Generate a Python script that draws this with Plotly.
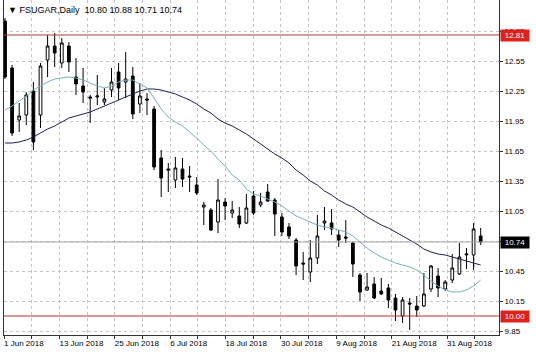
import datetime as dt
import plotly.graph_objects as go

symbol = "FSUGAR"
timeframe = "Daily"

dates = [
    "2018-06-01", "2018-06-04", "2018-06-05", "2018-06-06", "2018-06-07", "2018-06-08",
    "2018-06-11", "2018-06-12", "2018-06-13", "2018-06-14", "2018-06-15", "2018-06-18",
    "2018-06-19", "2018-06-20", "2018-06-21", "2018-06-22", "2018-06-25", "2018-06-26",
    "2018-06-27", "2018-06-28", "2018-06-29", "2018-07-02", "2018-07-03", "2018-07-05",
    "2018-07-06", "2018-07-09", "2018-07-10", "2018-07-11", "2018-07-12", "2018-07-13",
    "2018-07-16", "2018-07-17", "2018-07-18", "2018-07-19", "2018-07-20", "2018-07-23",
    "2018-07-24", "2018-07-25", "2018-07-26", "2018-07-27", "2018-07-30", "2018-07-31",
    "2018-08-01", "2018-08-02", "2018-08-03", "2018-08-06", "2018-08-07", "2018-08-08",
    "2018-08-09", "2018-08-10", "2018-08-13", "2018-08-14", "2018-08-15", "2018-08-16",
    "2018-08-17", "2018-08-20", "2018-08-21", "2018-08-22", "2018-08-23", "2018-08-24",
    "2018-08-27", "2018-08-28", "2018-08-29", "2018-08-30", "2018-08-31", "2018-09-04",
    "2018-09-05", "2018-09-06",
]

opens = [
    12.95, 12.48, 11.96, 12.01, 12.25, 12.01, 12.56, 12.70, 12.53, 12.70,
    12.39, 12.30, 12.19, 12.19, 12.14, 12.26, 12.44, 12.34, 12.40, 12.12,
    12.17, 12.07, 11.58, 11.47, 11.36, 11.47, 11.40, 11.31, 11.09, 11.06,
    10.94, 11.14, 11.03, 11.00, 10.93, 11.20, 11.11, 11.24, 11.16, 10.99,
    10.89, 10.76, 10.53, 10.44, 10.58, 10.93, 10.93, 10.81, 10.79, 10.73,
    10.41, 10.26, 10.32, 10.25, 10.28, 10.18, 10.00, 10.13, 10.10, 10.10,
    10.27, 10.40, 10.27, 10.36, 10.42, 10.61, 10.61, 10.80,
]
highs = [
    12.98, 12.51, 12.13, 12.24, 12.34, 12.53, 12.81, 12.83, 12.78, 12.74,
    12.58, 12.48, 12.21, 12.41, 12.28, 12.48, 12.53, 12.64, 12.49, 12.33,
    12.23, 12.10, 11.66, 11.53, 11.59, 11.58, 11.50, 11.39, 11.14, 11.08,
    11.37, 11.18, 11.15, 11.09, 11.22, 11.25, 11.23, 11.32, 11.18, 11.03,
    10.93, 10.78, 10.64, 10.76, 11.01, 11.09, 11.07, 10.86, 10.96, 10.74,
    10.43, 10.43, 10.39, 10.38, 10.32, 10.22, 10.19, 10.18, 10.20, 10.43,
    10.51, 10.48, 10.36, 10.62, 10.73, 10.68, 10.93, 10.88,
]
lows = [
    12.37, 11.80, 11.84, 11.91, 11.66, 11.88, 12.39, 12.49, 12.48, 12.44,
    12.21, 12.13, 11.93, 12.11, 12.11, 12.19, 12.16, 12.18, 11.97, 12.03,
    12.01, 11.46, 11.19, 11.24, 11.28, 11.29, 11.24, 11.21, 10.91, 10.85,
    10.83, 10.96, 10.98, 10.88, 10.92, 11.01, 11.09, 11.14, 10.80, 10.80,
    10.77, 10.41, 10.36, 10.34, 10.52, 10.86, 10.81, 10.69, 10.73, 10.39,
    10.15, 10.25, 10.17, 10.21, 10.08, 9.95, 9.93, 9.86, 9.99, 10.09,
    10.24, 10.19, 10.25, 10.33, 10.41, 10.47, 10.46, 10.71,
]
closes = [
    12.39, 11.83, 12.00, 12.21, 11.74, 12.50, 12.70, 12.63, 12.73, 12.54,
    12.32, 12.24, 12.18, 12.20, 12.17, 12.34, 12.28, 12.37, 12.02, 12.20,
    12.16, 11.49, 11.38, 11.46, 11.48, 11.37, 11.39, 11.23, 11.11, 10.86,
    11.16, 11.10, 11.06, 10.92, 11.08, 11.03, 11.14, 11.15, 11.02, 10.84,
    10.80, 10.50, 10.52, 10.58, 10.80, 10.95, 10.87, 10.76, 10.78, 10.52,
    10.24, 10.29, 10.18, 10.22, 10.16, 10.06, 10.16, 10.12, 10.06, 10.22,
    10.50, 10.28, 10.34, 10.48, 10.59, 10.62, 10.87, 10.74,
]

ma_fast = [
    12.06, 12.10, 12.15, 12.20, 12.26, 12.30, 12.34, 12.37, 12.38, 12.39,
    12.38, 12.36, 12.33, 12.30, 12.28, 12.30, 12.34, 12.36, 12.36, 12.32,
    12.28, 12.18, 12.07, 11.99, 11.94, 11.90, 11.84, 11.78, 11.71, 11.65,
    11.57, 11.50, 11.41, 11.36, 11.27, 11.22, 11.20, 11.17, 11.14, 11.10,
    11.05, 11.00, 10.97, 10.94, 10.91, 10.89, 10.88, 10.86, 10.84, 10.80,
    10.74, 10.68, 10.63, 10.59, 10.56, 10.53, 10.51, 10.49, 10.46, 10.41,
    10.35, 10.30, 10.26, 10.24, 10.24, 10.26, 10.30, 10.36,
]
ma_slow = [
    11.73, 11.73, 11.74, 11.76, 11.79, 11.83, 11.87, 11.90, 11.94, 11.98,
    12.00, 12.02, 12.04, 12.07, 12.10, 12.13, 12.16, 12.19, 12.22, 12.25,
    12.27, 12.27, 12.26, 12.24, 12.22, 12.19, 12.16, 12.12, 12.07, 12.03,
    11.97, 11.93, 11.90, 11.86, 11.82, 11.77, 11.72, 11.67, 11.62, 11.58,
    11.53, 11.46, 11.41, 11.35, 11.31, 11.25, 11.21, 11.16, 11.12, 11.09,
    11.04, 10.99, 10.95, 10.91, 10.88, 10.84, 10.80, 10.76, 10.72, 10.67,
    10.64, 10.62, 10.61, 10.59, 10.57, 10.55, 10.53, 10.51,
]

# time-scale labels as printed on the reference (the terminal places them at fixed
# pixel steps along the bar axis, every second vertical grid line)
label_dates = [
    "2018-06-01", "2018-06-13", "2018-06-25", "2018-07-06", "2018-07-18",
    "2018-07-30", "2018-08-09", "2018-08-21", "2018-08-31",
]
price_ticks = [9.85, 10.15, 10.45, 10.75, 11.05, 11.35, 11.65, 11.95, 12.25, 12.55, 12.85]
resistance = 12.81
support = 10.00
last_price = closes[-1]

idx = list(range(len(dates)))

# axis layout (in bar units)
x_range = [-0.14, 69.58]
grid_step = 3.9
n_grid = 2 * len(label_dates)


def fmt_date(s):
    d = dt.date.fromisoformat(s)
    return f"{d.day} {d.strftime('%b %Y')}"


tickvals, ticktext = [], []
for k in range(n_grid):
    tickvals.append(x_range[0] + 0.01 + grid_step * k)
    ticktext.append(fmt_date(label_dates[k // 2]) if k % 2 == 0 else "")

FONT = "Liberation Sans, Arial, sans-serif"

fig = go.Figure()
fig.add_trace(go.Scatter(x=idx, y=ma_slow, mode="lines",
                         line=dict(color="#1c1f5a", width=1), hoverinfo="skip"))
fig.add_trace(go.Scatter(x=idx, y=ma_fast, mode="lines",
                         line=dict(color="#74b3bd", width=1), hoverinfo="skip"))
fig.add_trace(go.Candlestick(
    x=idx, open=opens, high=highs, low=lows, close=closes,
    increasing=dict(line=dict(color="black", width=1), fillcolor="white"),
    decreasing=dict(line=dict(color="black", width=1), fillcolor="black"),
    whiskerwidth=0,
))

# horizontal level lines
fig.add_shape(type="line", xref="paper", x0=0, x1=1, y0=resistance, y1=resistance,
              line=dict(color="#a8403a", width=1))
fig.add_shape(type="line", xref="paper", x0=0, x1=1, y0=support, y1=support,
              line=dict(color="#b8342c", width=1))
fig.add_shape(type="line", xref="paper", x0=0, x1=1, y0=last_price, y1=last_price,
              line=dict(color="#a8a8a8", width=1))

# price boxes on the right axis
for val, bg in [(resistance, "#e0201b"), (support, "#e0201b"), (last_price, "#000000")]:
    fig.add_annotation(xref="paper", x=1, xanchor="left", y=val, yref="y",
                       text=f"{val:.2f}", showarrow=False, bgcolor=bg,
                       font=dict(color="white", size=8, family=FONT),
                       width=26, height=9, borderpad=1, xshift=1, align="center")

header = (f"▼ {symbol},Daily  {opens[-1]:.2f} {highs[-1]:.2f} "
          f"{lows[-1]:.2f} {closes[-1]:.2f}").replace("Daily", timeframe)
fig.add_annotation(xref="paper", yref="paper", x=0, y=1, xanchor="left", yanchor="top",
                   text=header, showarrow=False, xshift=2, yshift=-3,
                   font=dict(color="black", size=9, family=FONT))

fig.update_layout(
    width=536, height=358,
    margin=dict(l=4, r=37, t=0, b=23),
    paper_bgcolor="white", plot_bgcolor="white",
    showlegend=False,
    boxgap=0.45,
    font=dict(family=FONT, size=8, color="black"),
    xaxis=dict(
        range=x_range, rangeslider=dict(visible=False),
        tickvals=tickvals, ticktext=ticktext,
        ticklabelposition="outside right", ticklabelshift=-1,
        showgrid=True, gridcolor="#c4c4c4", griddash="3px,3px", gridwidth=1,
        showline=True, linecolor="#333333", linewidth=1,
        ticks="outside", ticklen=3, tickcolor="#333333",
        zeroline=False, tickfont=dict(size=8, family=FONT),
    ),
    yaxis=dict(
        side="right", range=[9.81, 13.16],
        tickvals=price_ticks, ticktext=[f"{v:.2f}" for v in price_ticks],
        showgrid=True, gridcolor="#c4c4c4", griddash="3px,3px", gridwidth=1,
        showline=True, mirror=True, linecolor="#333333", linewidth=1,
        ticks="outside", ticklen=3, tickcolor="#333333",
        zeroline=False, tickfont=dict(size=8, family=FONT),
    ),
)

fig.write_html("out.html")
